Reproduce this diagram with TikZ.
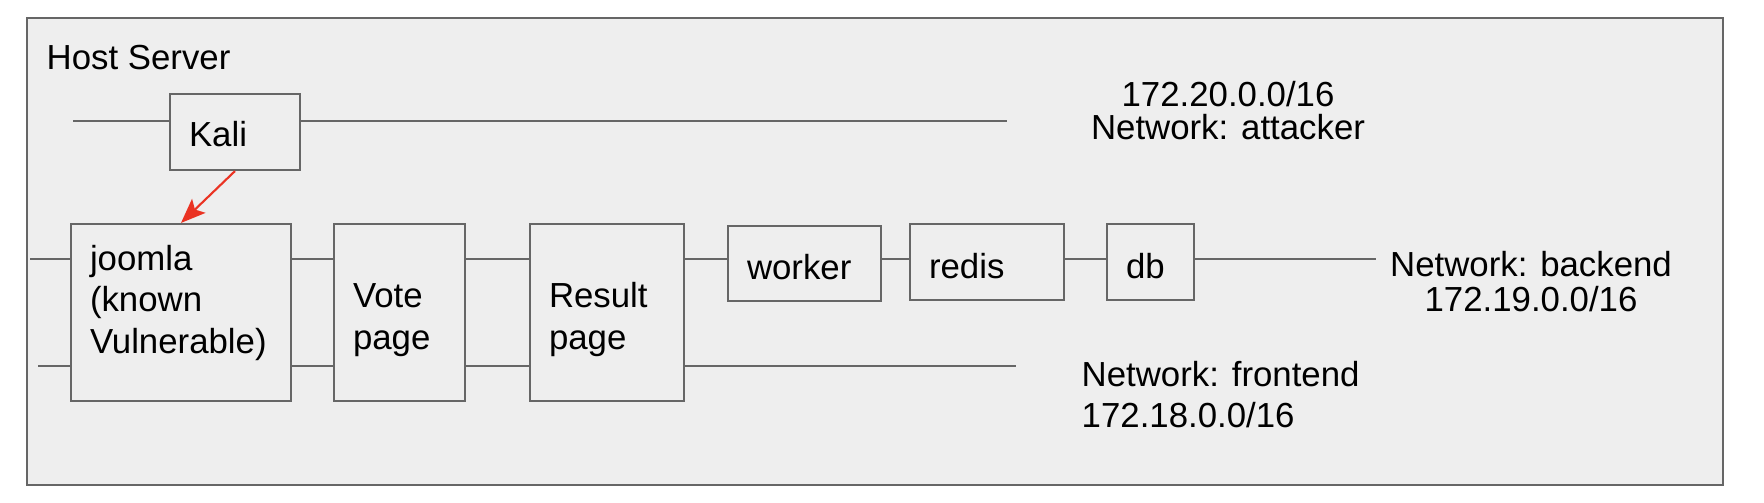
\documentclass[tikz,border=0pt]{standalone}
\usepackage{fontspec}
\setmainfont{Liberation Sans}
\usetikzlibrary{arrows.meta}
\definecolor{hostfill}{HTML}{EEEEEE}
\definecolor{edgegray}{HTML}{666666}
\definecolor{attackred}{HTML}{EA3323}
\newcommand{\capfill}[1]{\rule{0pt}{#1}}

\begin{document}
\begin{tikzpicture}[>={Stealth[length=7pt,width=5.5pt,inset=1.5pt]},
    svc node/.style={rectangle,draw=edgegray,fill=hostfill,line width=0.6pt,align=left,inner xsep=0.19cm,inner ysep=0pt,font=\fontsize{9.9}{11.9}\selectfont},
    net label/.style={inner sep=0pt,font=\fontsize{9.9}{11.9}\selectfont},
    net line/.style={-,draw=edgegray,line width=0.5pt}]
    \useasboundingbox (0,0) rectangle (17.64,5.02);
    % host server frame
    \draw[draw=edgegray,fill=hostfill,line width=0.7pt] (0.27,0.17) rectangle (17.23,4.84);
    \node[net label,anchor=base west] (host) at (0.46,4.32) {Host Server};

    \node[svc node,text width=0.92cm,minimum height=0.76cm] (kali) at (2.35,3.70) {\capfill{8.6pt}Kali};
    \node[svc node,text width=1.82cm,minimum height=1.77cm] (joomla) at (1.81,1.895) {\capfill{11.6pt}joomla\\(known\\Vulnerable)\\\mbox{}};
    \node[svc node,text width=0.93cm,minimum height=1.77cm] (vote) at (3.995,1.895) {\capfill{11.2pt}Vote\\page};
    \node[svc node,text width=1.16cm,minimum height=1.77cm] (result) at (6.07,1.895) {\capfill{11.2pt}Result\\page};
    \node[svc node,text width=1.15cm,minimum height=0.75cm] (worker) at (8.045,2.385) {\capfill{9.2pt}worker};
    \node[svc node,text width=1.16cm,minimum height=0.76cm] (redis) at (9.87,2.40) {\capfill{9.2pt}redis};
    \node[svc node,text width=0.49cm,minimum height=0.76cm] (db) at (11.505,2.40) {\capfill{9.2pt}db};

    % free ends of the networks
    \coordinate (atkL) at (0.73,3.81);
    \coordinate (atkR) at (10.07,3.81);
    \coordinate (bkL) at (0.30,2.43);
    \coordinate (bkR) at (13.76,2.43);
    \coordinate (frL) at (0.38,1.36);
    \coordinate (frR) at (10.16,1.36);

    % attacker
    \path[net line] (atkL) edge (atkL -| kali.west);
    \path[net line] (kali.east |- atkL) edge (atkR);
    % backend
    \path[net line] (bkL) edge (bkL -| joomla.west);
    \path[net line] (joomla.east |- bkL) edge (vote.west |- bkL);
    \path[net line] (vote.east |- bkL) edge (result.west |- bkL);
    \path[net line] (result.east |- bkL) edge (worker.west |- bkL);
    \path[net line] (worker.east |- bkL) edge (redis.west |- bkL);
    \path[net line] (redis.east |- bkL) edge (db.west |- bkL);
    \path[net line] (db.east |- bkR) edge (bkR);
    % frontend
    \path[net line] (frL) edge (frL -| joomla.west);
    \path[net line] (joomla.east |- frL) edge (vote.west |- frL);
    \path[net line] (vote.east |- frL) edge (result.west |- frL);
    \path[net line] (result.east |- frR) edge (frR);

    \draw[->,attackred,line width=0.6pt] (kali.south) -- (joomla.north);

    \node[net label,align=center,font=\fontsize{9.9}{9.4}\selectfont] (attacker) at (12.28,3.91) {172.20.0.0/16\\Network: attacker};
    \node[net label,align=center,font=\fontsize{9.9}{10.2}\selectfont] (backend) at (15.31,2.205) {Network: backend\\172.19.0.0/16};
    \node[net label,anchor=west,align=left,font=\fontsize{9.9}{11.7}\selectfont] (frontend) at (10.81,1.07) {Network: frontend\\172.18.0.0/16};
\end{tikzpicture}
\end{document}
